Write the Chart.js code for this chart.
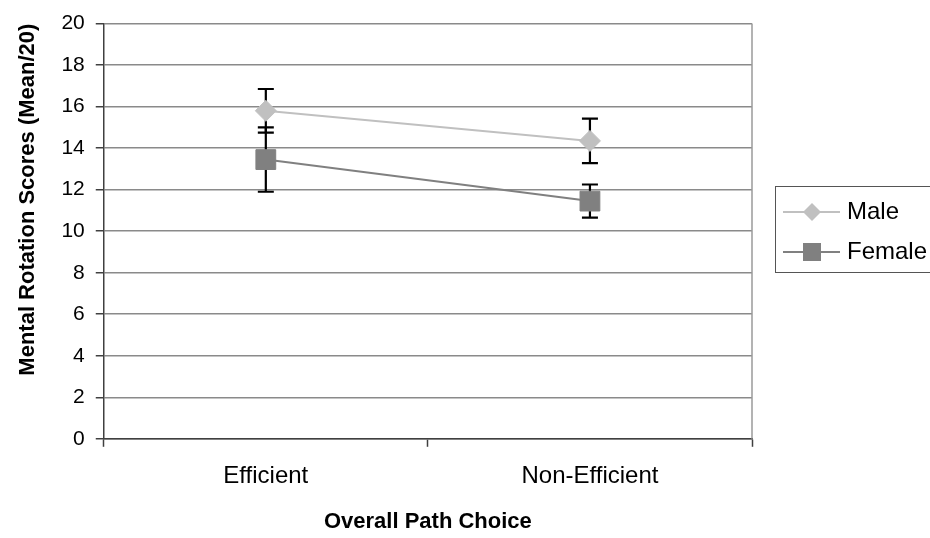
<!DOCTYPE html>
<html>
<head>
<meta charset="utf-8">
<script src="https://cdn.jsdelivr.net/npm/chart.js@4.4.1/dist/chart.umd.min.js"></script>
<style>
  html, body { margin: 0; padding: 0; background: #fff; }
  #wrap { width: 930px; height: 538px; }
</style>
</head>
<body>
<div id="wrap"><canvas id="chart" width="930" height="538"></canvas></div>
<script>
var categories = ['Efficient', 'Non-Efficient'];
var maleValues = [15.8, 14.35];
var maleErrors = [1.05, 1.07];
var femaleValues = [13.45, 11.45];
var femaleErrors = [1.55, 0.8];
var yTicks = [0, 2, 4, 6, 8, 10, 12, 14, 16, 18, 20];

var FONT = 'Arial, "Liberation Sans", sans-serif';

// error bars, drawn under the markers
var errorBars = {
  id: 'errorBars',
  beforeDatasetsDraw: function(chart) {
    var ctx = chart.ctx;
    var y = chart.scales.y;
    var errs = [maleErrors, femaleErrors];
    ctx.save();
    ctx.strokeStyle = '#000';
    ctx.lineWidth = 2.2;
    chart.data.datasets.forEach(function(ds, i) {
      var meta = chart.getDatasetMeta(i);
      meta.data.forEach(function(pt, j) {
        var v = ds.data[j];
        var top = y.getPixelForValue(v + errs[i][j]);
        var bot = y.getPixelForValue(v - errs[i][j]);
        ctx.beginPath();
        ctx.moveTo(pt.x, top);
        ctx.lineTo(pt.x, bot);
        ctx.moveTo(pt.x - 8, top);
        ctx.lineTo(pt.x + 8, top);
        ctx.moveTo(pt.x - 8, bot);
        ctx.lineTo(pt.x + 8, bot);
        ctx.stroke();
      });
    });
    ctx.restore();
  }
};

// right frame line and the boxed legend at the right
var frameLegend = {
  id: 'frameLegend',
  afterDraw: function(chart) {
    var ctx = chart.ctx;
    var a = chart.chartArea;
    ctx.save();
    ctx.strokeStyle = '#9a9a9a';
    ctx.lineWidth = 1.5;
    ctx.beginPath();
    ctx.moveTo(a.right, a.top);
    ctx.lineTo(a.right, a.bottom);
    ctx.stroke();

    ctx.strokeStyle = '#555';
    ctx.lineWidth = 1;
    ctx.strokeRect(775.5, 186.5, 170, 86);

    chart.data.datasets.forEach(function(ds, i) {
      var ly = 212 + i * 40;
      ctx.strokeStyle = ds.borderColor;
      ctx.lineWidth = 2;
      ctx.beginPath();
      ctx.moveTo(783, ly);
      ctx.lineTo(840, ly);
      ctx.stroke();
      ctx.fillStyle = ds.backgroundColor;
      ctx.beginPath();
      if (ds.pointStyle === 'rectRot') {
        ctx.moveTo(812, ly - 9);
        ctx.lineTo(821, ly);
        ctx.lineTo(812, ly + 9);
        ctx.lineTo(803, ly);
        ctx.closePath();
      } else {
        ctx.rect(803, ly - 9, 18, 18);
      }
      ctx.fill();
      ctx.fillStyle = '#000';
      ctx.font = '24px ' + FONT;
      ctx.textBaseline = 'middle';
      ctx.fillText(ds.label, 847, ly);
    });
    ctx.restore();
  }
};

new Chart(document.getElementById('chart'), {
  type: 'line',
  data: {
    labels: categories,
    datasets: [{
      label: 'Male',
      data: maleValues,
      borderColor: '#c0c0c0',
      backgroundColor: '#c0c0c0',
      borderWidth: 2,
      pointStyle: 'rectRot',
      pointRadius: 10.5,
      pointBorderWidth: 1,
      tension: 0
    }, {
      label: 'Female',
      data: femaleValues,
      borderColor: '#808080',
      backgroundColor: '#808080',
      borderWidth: 2,
      pointStyle: 'rect',
      pointRadius: 14,
      pointBorderWidth: 1,
      tension: 0
    }]
  },
  options: {
    responsive: false,
    animation: false,
    layout: { padding: { left: 15, top: 8, right: 178, bottom: 3 } },
    plugins: {
      legend: { display: false },
      tooltip: { enabled: false }
    },
    scales: {
      x: {
        offset: true,
        grid: {
          offset: true,
          drawOnChartArea: false,
          drawTicks: true,
          tickLength: 8,
          tickColor: '#404040',
          tickWidth: 1.5
        },
        border: { color: '#404040', width: 1.5 },
        ticks: {
          color: '#000',
          padding: 15,
          font: { family: FONT, size: 24 }
        },
        title: {
          display: true,
          text: 'Overall Path Choice',
          color: '#000',
          padding: { top: 3, bottom: 0 },
          font: { family: FONT, size: 22, weight: 'bold' }
        }
      },
      y: {
        min: 0,
        max: 20,
        afterBuildTicks: function(scale) {
          scale.ticks = yTicks.map(function(v) { return { value: v }; });
        },
        grid: {
          color: '#8a8a8a',
          lineWidth: 1.5,
          tickLength: 8,
          tickColor: '#404040'
        },
        border: { color: '#404040', width: 1.5 },
        ticks: {
          color: '#000',
          padding: 11,
          font: { family: FONT, size: 21 }
        },
        title: {
          display: true,
          text: 'Mental Rotation Scores (Mean/20)',
          color: '#000',
          align: 'end',
          padding: { top: 0, bottom: 9 },
          font: { family: FONT, size: 22, weight: 'bold' }
        }
      }
    }
  },
  plugins: [errorBars, frameLegend]
});
</script>
</body>
</html>
